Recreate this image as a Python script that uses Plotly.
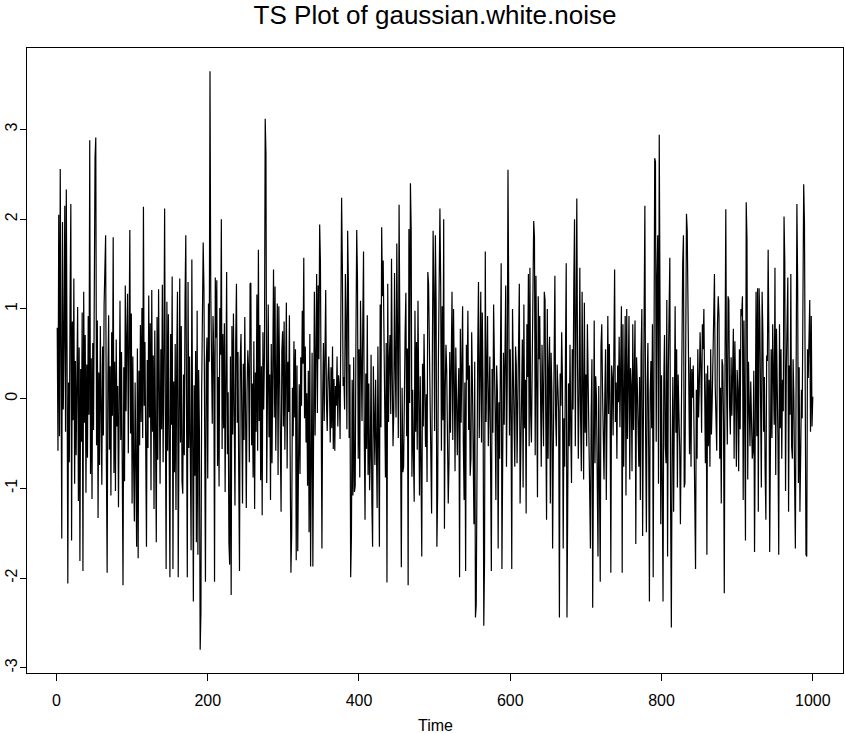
import plotly.graph_objects as go

# Values of gaussian.white.noise (20 per row)
noise_values = [
    0.79, -0.58, 2.05, -0.42, 2.56, 0.31, -1.56, 1.97, -0.12, 0.65, 2.15, -0.37, 2.33, 0.48, -2.06, 0.18, -0.71, 1.12, 2.17, -1.58,
    0.86, -0.24, 1.34, -0.95, 0.42, -0.63, 0.15, 1.02, -1.14, 0.57, -1.81, 0.33, -0.48, 0.96, -1.92, 1.19, -0.27, 0.71, -1.05, 0.38,
    -0.66, 0.92, -0.18, 2.88, -0.84, 0.45, -1.12, 0.62, -0.35, 1.48, 2.69, 2.91, -0.52, 0.87, -1.33, 0.29, -0.74, 0.81, 0.12, -0.96,
    0.58, -0.41, 1.05, 1.64, 1.82, -0.69, -1.94, 0.24, 0.93, -0.57, 0.36, -1.08, 0.74, -0.19, 1.80, -0.83, 0.41, -1.03, 0.66, -0.31,
    0.14, -1.21, 0.88, 1.09, -0.46, 0.52, -0.78, -2.08, 0.35, -0.92, 1.26, -0.14, 0.69, 1.17, -0.61, 0.23, 1.88, -0.39, 0.95, -1.17,
    0.47, -0.73, -1.37, 0.18, -0.88, -1.65, 0.56, -1.78, 0.31, -0.52, 0.82, -0.26, 1.01, -0.44, 2.14, -0.08, 0.63, -1.32, -1.65, 0.43,
    -0.55, 1.15, -0.21, 0.84, -1.02, 1.21, -0.37, 0.48, -1.23, 0.76, -0.12, -1.60, 0.91, -0.68, 1.22, 0.27, -0.95, 0.55, -0.34, 1.27,
    -0.71, 0.39, 2.12, -0.16, -1.90, 1.08, -0.58, 0.94, -1.08, -1.99, 0.72, -0.29, 1.36, -1.90, 0.19, -0.82, 0.61, -1.24, 0.45, 1.19,
    -1.99, 0.38, 1.34, -0.49, 0.81, -0.92, -1.06, 0.27, -0.63, 1.12, 1.82, -0.18, -1.99, 1.30, -0.55, 0.47, -1.46, -1.69, 1.55, -0.74,
    -2.26, 0.15, -0.86, 0.53, -1.60, 0.98, -1.74, 0.32, -0.35, -2.80, -2.39, 0.11, 0.89, 1.74, 1.22, -0.44, -2.04, 0.37, 0.68, -0.89,
    1.06, 0.41, 3.65, 1.20, 0.62, -0.28, 0.92, 0.51, -2.04, 1.35, 0.68, 1.32, -0.75, 0.24, -0.98, 1.01, 0.49, 2.00, -0.56, 0.72,
    -0.33, 0.84, -1.04, 0.26, 1.41, -0.62, 0.07, -1.60, -1.85, 0.47, -2.19, 0.81, -0.40, 0.95, 0.18, -1.19, 0.63, 1.28, -0.27, 0.52,
    -0.84, -1.92, 0.44, 0.72, -0.15, -1.17, 0.39, -0.46, 0.91, -0.63, -1.22, 0.08, 0.54, 0.33, -0.71, 1.28, 1.29, -0.52, 0.17, -0.88,
    0.64, -1.23, 0.29, -0.37, 1.16, -0.58, 1.66, -0.25, 0.82, -0.91, 0.36, -1.30, 0.74, -0.12, 0.47, 3.12, 2.72, -0.94, 0.58, 1.05,
    -0.43, 0.27, -1.13, 0.61, -0.72, 0.15, 1.44, -0.21, 1.25, -0.58, 0.38, 1.06, -0.85, 1.03, 0.31, -0.46, -1.26, 0.53, 0.75, -0.31,
    0.86, -0.57, 0.22, 1.07, -0.78, 0.41, -0.15, 0.93, -0.63, -1.94, -1.50, 0.12, -0.42, 0.64, -0.21, 0.55, -1.80, 0.37, -1.70, -0.38,
    0.16, -0.84, 0.46, -0.08, 0.98, 0.39, 1.57, -0.22, 0.58, -0.49, 0.06, -0.97, 0.31, -1.49, 0.72, -1.87, -0.64, 0.51, -1.87, 0.24,
    1.19, -0.41, 0.88, 1.39, -0.16, 1.26, 0.44, 1.94, 1.53, -0.72, -1.67, 0.03, 0.62, -0.25, 1.21, 1.21, -0.05, -0.36, 0.21, 0.47,
    0.10, -0.49, 0.35, -0.33, 0.58, -0.56, 0.22, -0.58, 0.14, -0.08, 0.47, -0.31, 0.26, 0.12, -0.45, 0.63, 2.24, 1.51, 0.14, 0.24,
    -0.12, 1.39, 0.85, -0.34, 1.87, 1.28, -0.44, 0.38, -1.99, -1.54, 0.21, -1.08, 0.46, -1.04, -0.97, 0.72, 1.88, 1.32, -0.67, 0.55,
    -0.88, 1.09, 0.37, -0.25, 0.82, 1.64, -0.41, -1.35, 0.28, -0.56, 0.93, -0.85, 0.17, -1.02, -0.63, 0.49, -1.15, -1.65, 0.36, -0.43,
    -0.74, 0.21, -0.96, -1.22, 0.58, -0.47, -1.65, 1.05, -0.32, 1.91, 1.14, 1.54, 0.91, -0.18, -0.88, 0.62, -2.05, 1.28, -0.26, 0.42,
    0.71, -0.17, 1.56, 0.26, -0.53, -0.15, 1.40, 0.34, -0.21, 1.73, 0.68, -0.44, 2.16, 0.47, -0.69, -1.88, 0.12, -0.82, -0.76, 0.23,
    0.75, 1.18, -0.42, 0.56, -2.08, 1.89, -0.05, 2.40, 1.89, -0.87, 0.10, -0.64, -1.15, 0.98, -0.37, 0.63, -0.57, 1.09, -0.36, -1.08,
    0.25, -0.62, -1.76, 0.39, -0.31, 0.72, 0.28, -0.54, 0.05, -0.93, 1.41, 1.28, 0.64, -0.21, -0.58, -1.28, 0.47, 1.87, 1.19, -0.36,
    1.82, 1.05, -1.65, -1.05, 0.43, 1.59, 2.12, 1.28, -0.58, 1.03, -0.24, 2.00, -1.45, 0.10, 0.60, 0.31, -1.00, -1.17, -0.72, 0.52,
    -0.38, 0.87, 1.19, -0.46, 1.00, 0.22, -0.81, 0.57, 0.05, -0.63, -0.01, 0.34, -1.99, 0.78, -0.27, 0.64, 1.03, -0.52, -1.13, 0.18,
    -1.92, 0.60, 0.21, 0.98, -0.35, 0.37, -0.86, -0.67, 0.74, 0.16, -0.72, -1.40, 0.41, -2.44, -2.30, -0.08, 0.55, 1.30, -0.44, 0.29,
    1.19, -0.49, 0.96, 0.18, -2.53, -1.81, 1.64, -0.26, 0.83, 0.92, -0.53, 0.10, 0.47, -0.76, -1.92, 0.33, -0.38, 1.05, 0.62, -0.15,
    -1.13, 0.37, 0.08, -1.67, -0.04, -0.67, 0.44, 1.51, -1.90, -1.03, 0.51, -0.29, 0.99, 1.26, -0.76, 0.18, 2.55, 1.28, -0.41, 0.55,
    -0.22, -1.90, 1.00, 0.31, -0.49, -0.76, 0.58, 0.37, -0.72, 0.13, 1.10, 1.28, -1.17, -0.42, -0.08, 0.66, -0.99, 1.05, -0.33, 0.21,
    -1.28, 0.83, 0.24, 1.39, -0.53, 1.46, -0.18, -0.49, 0.36, 1.60, 1.98, 1.80, -0.63, 1.37, -0.07, -1.10, 1.14, 0.44, 0.92, -0.31,
    -0.76, 0.60, 0.12, -0.53, 1.19, 1.10, -0.28, -1.35, 1.00, -0.67, 0.34, 0.69, -1.17, 0.51, 0.09, -1.67, -0.53, 0.73, 1.37, -0.19,
    -0.53, 0.38, 0.15, -0.14, -2.44, 0.28, -0.08, 0.74, 0.21, -1.67, -0.22, -0.76, 0.46, 1.51, -2.44, -0.99, 0.17, -0.53, 0.60, -0.34,
    -0.94, 0.55, -0.12, 1.26, 2.00, -0.53, 2.09, 2.23, 0.36, -0.67, 0.05, 1.46, -0.22, -0.81, 1.19, 0.41, -0.90, 1.07, -0.38, 0.27,
    -0.53, 0.83, 0.32, -0.53, -0.99, -1.67, -0.17, 0.44, -2.33, -0.81, 0.87, -0.72, 0.25, 0.01, -1.58, -1.76, 0.14, -1.67, -2.04, 0.58,
    0.83, 0.10, -0.36, -0.90, 0.01, 0.55, -1.13, 0.05, 0.92, -0.17, 0.61, -0.08, -1.94, 0.37, 0.24, -0.41, 0.46, 1.44, -0.26, 0.18,
    -0.67, 0.37, -0.04, 0.69, -0.32, 0.92, 1.03, -1.94, 0.83, -0.76, 0.21, 0.92, -1.08, 1.00, -0.45, 0.10, 0.92, -0.90, 0.34, 0.15,
    -0.81, 0.83, -0.35, 0.28, 0.87, -1.62, 0.46, 0.15, -0.58, -0.76, 0.24, -1.13, 0.49, 1.00, -1.53, 0.12, 1.37, 2.15, -0.41, -1.49,
    0.15, 0.62, -0.53, -2.26, 0.05, 0.42, -0.33, 0.83, -1.99, 0.36, 2.68, 2.64, -0.48, 1.37, 1.82, -0.95, 2.94, 1.10, -1.40, 0.26,
    -0.67, -2.26, 0.19, 0.71, -0.53, -0.72, 1.10, -1.76, 0.32, 1.44, 1.57, -1.17, -2.55, -0.53, 0.24, -1.26, 0.10, 1.03, -0.38, 0.55,
    -0.99, 0.27, -0.17, -0.53, -1.40, -0.31, 0.64, 1.51, 1.82, -0.99, -0.94, 0.18, 2.06, 1.87, 0.92, -0.26, -0.62, 0.46, -0.76, 0.33,
    0.01, 0.37, -0.45, -1.53, -1.90, 0.10, -0.67, 0.55, -0.21, 0.15, 0.74, 0.37, -0.38, 0.83, 0.55, 1.00, -0.14, -0.72, 0.28, -1.74,
    0.37, -0.53, 0.21, -0.76, 0.55, -0.40, -0.04, 0.66, 1.32, 1.39, 0.15, -0.31, -0.58, 0.83, 1.14, 0.92, -0.67, 0.12, -1.17, 0.44,
    0.37, -0.26, -2.17, 0.46, 2.11, 0.15, -0.51, 1.14, 1.10, -0.08, -0.40, 0.46, -0.19, 0.28, 0.78, -0.67, 0.64, 0.07, -0.76, 0.32,
    0.10, -0.81, 0.55, -0.34, 1.00, 0.92, 1.14, -1.13, 0.87, -0.22, -1.58, 2.19, 1.78, -0.90, 0.41, -0.08, -0.53, 0.19, -0.26, -0.67,
    -0.58, 0.31, -1.71, 0.51, 1.19, -0.42, 1.23, -1.26, 1.23, 0.87, 0.06, -0.99, 1.19, 0.74, -0.37, 0.24, -0.81, -1.35, 0.48, 0.42,
    1.66, 0.64, -1.71, 0.12, 0.55, -0.44, 0.83, 0.24, -0.29, 1.46, -0.85, 0.78, 0.17, -0.49, -1.74, 0.83, -0.33, 0.55, -0.67, 0.21,
    -0.14, 2.03, 1.53, -1.03, 0.32, 1.10, 1.35, -1.26, 0.37, -0.18, 1.39, -0.53, -0.67, 0.44, 0.01, -0.94, -1.67, 0.28, 2.17, 1.28,
    -0.94, 0.35, -1.26, -0.63, 0.10, -0.22, 2.09, 2.39, 1.96, -0.48, -1.74, -1.76, 0.55, 0.23, 0.60, 1.10, -0.37, 0.92, -0.31, 0.02,
]
time_index = list(range(1, len(noise_values) + 1))

x_tick_values = [0, 200, 400, 600, 800, 1000]
y_tick_values = [-3, -2, -1, 0, 1, 2, 3]

title_text = "TS Plot of gaussian.white.noise"
x_label = "Time"

# R-style 4% range extension
def r_range(vals):
    lo, hi = min(vals), max(vals)
    pad = 0.04 * (hi - lo)
    return [lo - pad, hi + pad]

FONT = "Liberation Sans, Arial, Helvetica, sans-serif"

fig = go.Figure()
fig.add_trace(go.Scatter(
    x=time_index, y=noise_values, mode="lines",
    line=dict(color="black", width=1.2),
    hoverinfo="x+y", showlegend=False,
))

fig.update_layout(
    width=845, height=733, autosize=False,
    margin=dict(l=27, r=2, t=48, b=60, pad=0, autoexpand=False),
    paper_bgcolor="white", plot_bgcolor="white",
    font=dict(family=FONT, color="black", size=16),
    title=dict(text=title_text, x=0.5, xref="paper", xanchor="center",
               y=1 - 15 / 733, yref="container", yanchor="middle",
               font=dict(family=FONT, size=26, color="black"),
               automargin=False),
    showlegend=False,
)
fig.update_xaxes(
    range=r_range(time_index), tickmode="array", tickvals=x_tick_values,
    ticktext=[str(v) for v in x_tick_values],
    ticks="outside", ticklen=7, tickwidth=1, tickcolor="black",
    showline=True, linecolor="black", linewidth=1, mirror=True,
    showgrid=False, zeroline=False, tickfont=dict(size=16),
    ticklabelstandoff=6, automargin=False,
)
fig.update_yaxes(
    range=r_range(noise_values), tickmode="array", tickvals=y_tick_values,
    ticktext=[str(v) for v in y_tick_values],
    ticks="outside", ticklen=6, tickwidth=1, tickcolor="black",
    showline=True, linecolor="black", linewidth=1, mirror=True,
    showgrid=False, zeroline=False, tickangle=-90, tickfont=dict(size=16),
    ticklabelstandoff=-3, automargin=False,
)
fig.add_annotation(text=x_label, xref="paper", yref="paper", x=0.5,
                   y=-(725 - 673) / 625, yanchor="middle", showarrow=False,
                   font=dict(family=FONT, size=16, color="black"))

fig.write_html(
    "out.html",
    config={"displayModeBar": False},
    post_script="document.body.style.margin='0';document.body.style.overflow='hidden';",
)
